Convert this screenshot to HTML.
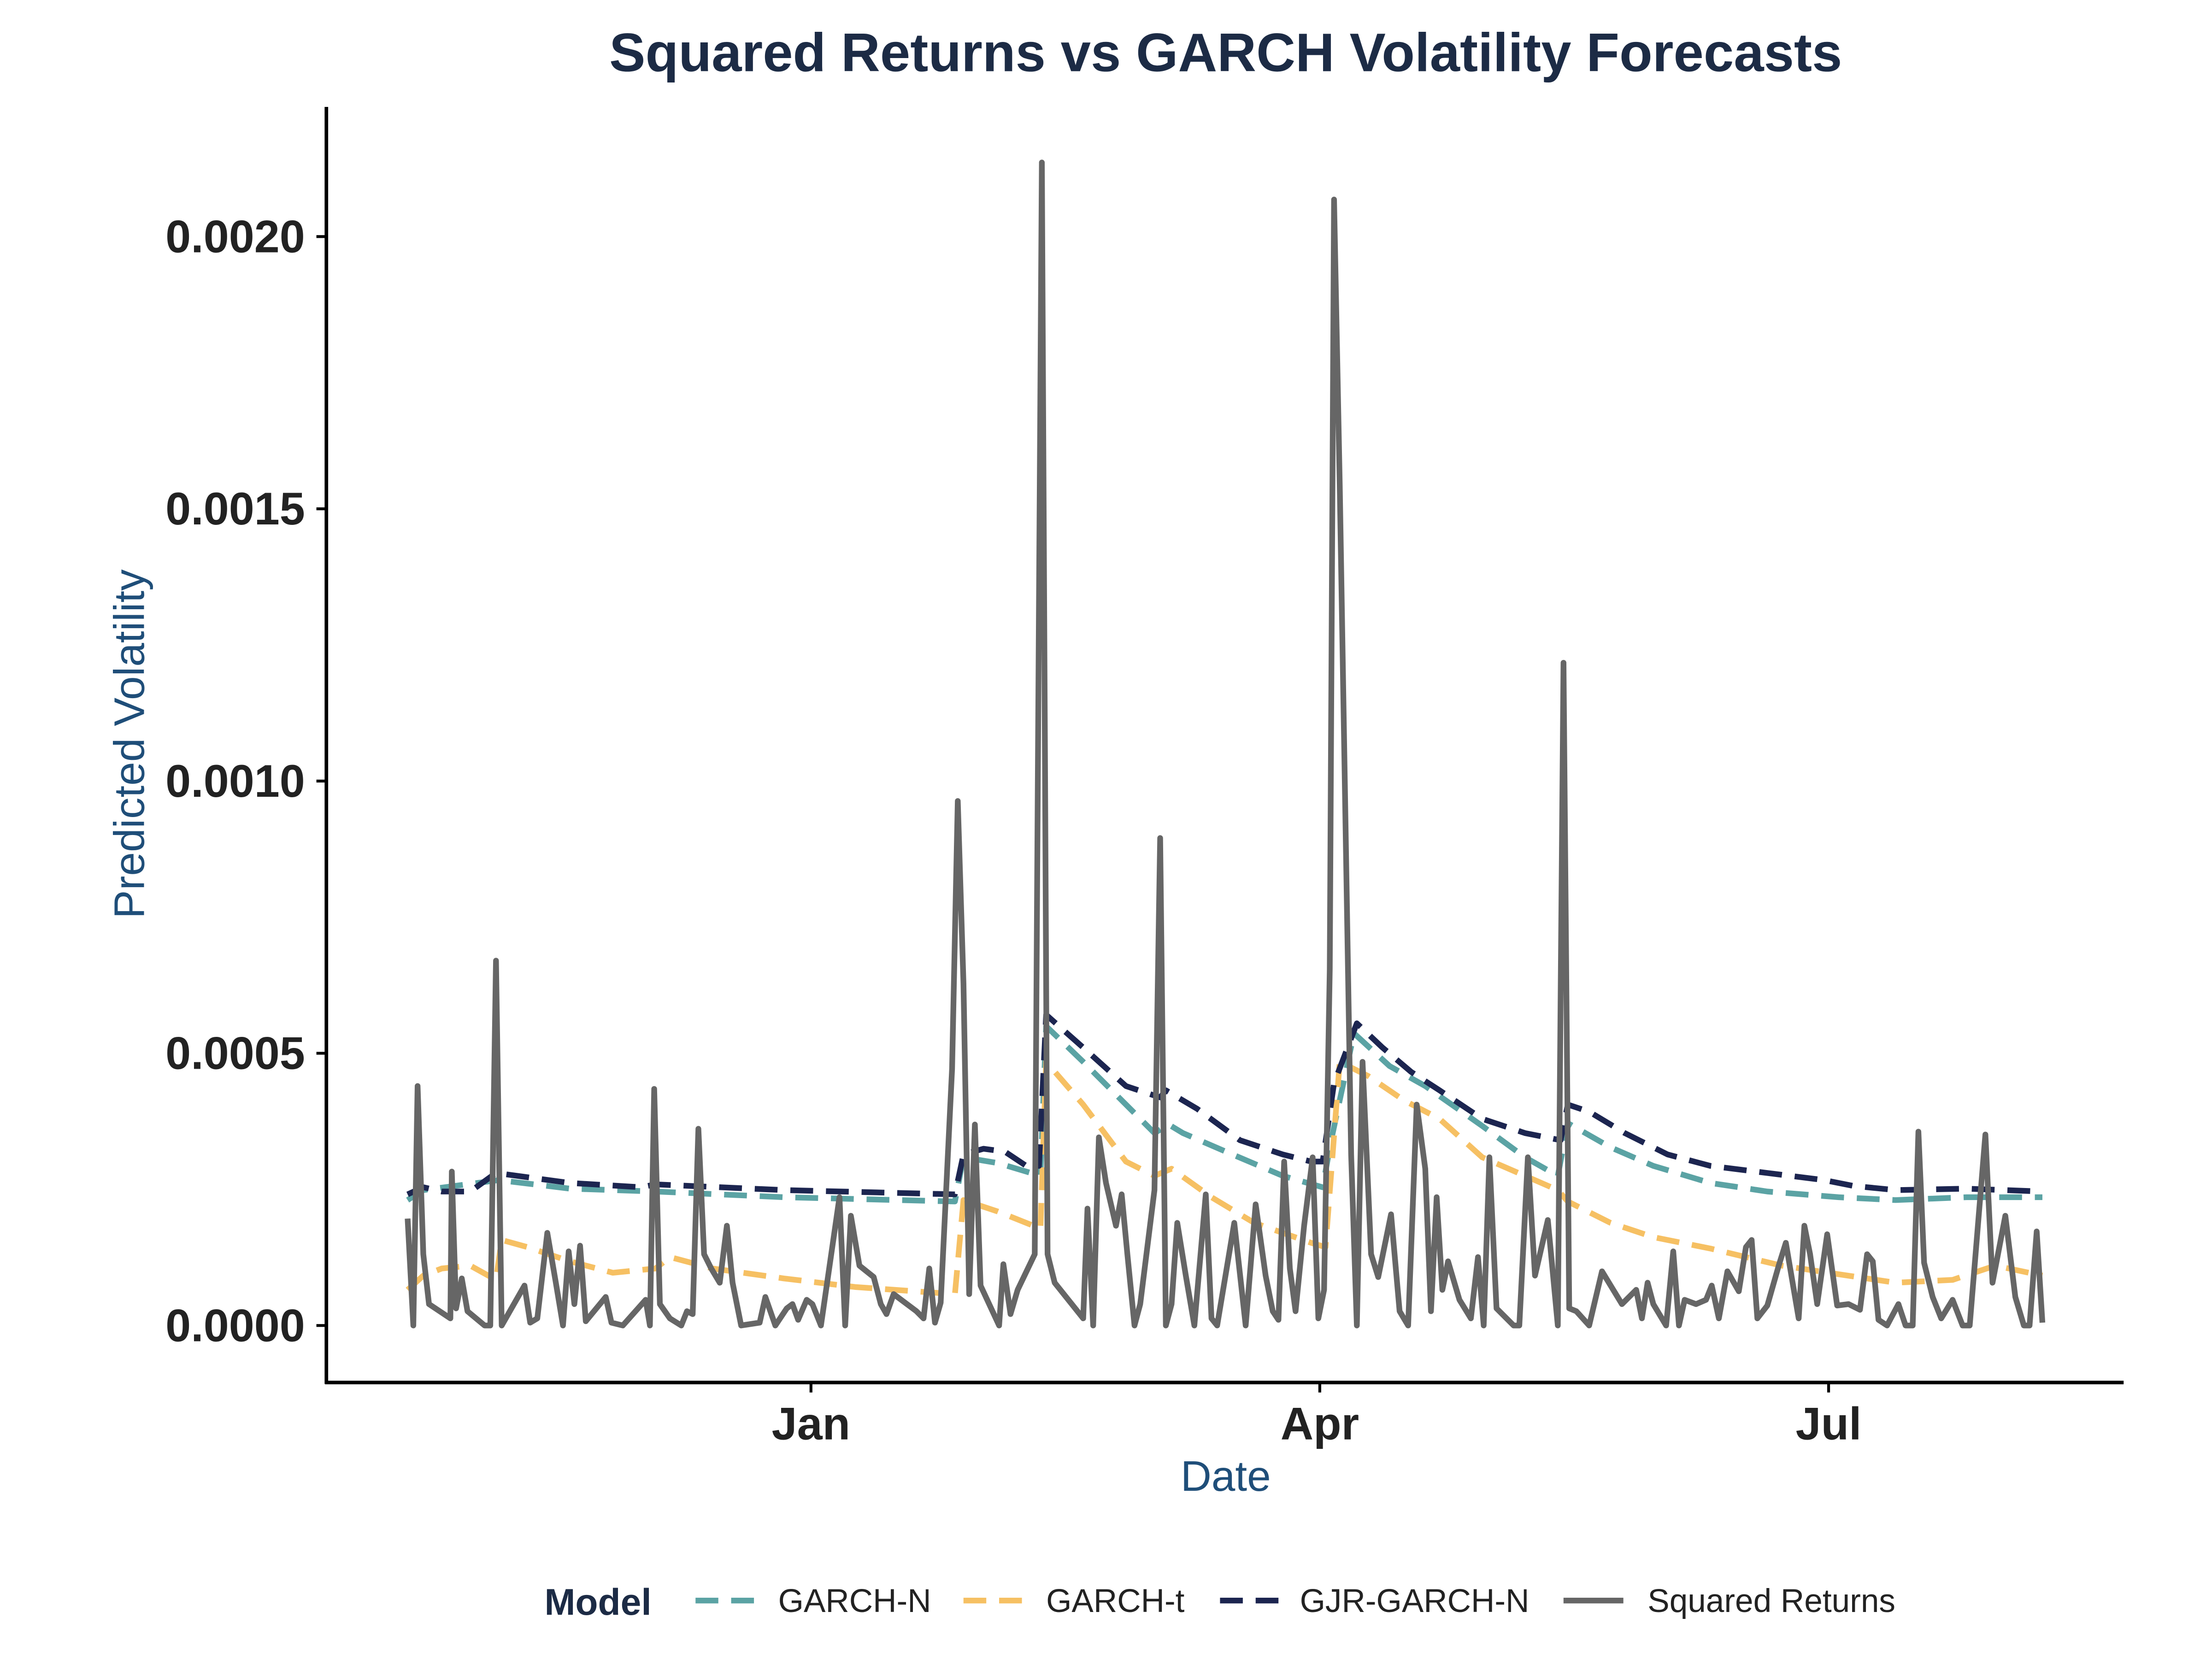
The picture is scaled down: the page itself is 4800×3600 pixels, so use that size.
<!DOCTYPE html>
<html><head><meta charset="utf-8"><style>
html,body{margin:0;padding:0;background:#fff;}
svg{display:block;}
text{font-family:"Liberation Sans",sans-serif;}
</style></head><body>
<svg width="4800" height="3600" viewBox="0 0 1552 1164" xmlns="http://www.w3.org/2000/svg">
<rect width="1552" height="1164" fill="#fff"/>
<text x="860" y="50" text-anchor="middle" font-size="38" font-weight="bold" fill="#1c2b45">Squared Returns vs GARCH Volatility Forecasts</text>
<line x1="229" y1="75" x2="229" y2="971" stroke="#000" stroke-width="2.5"/>
<line x1="228" y1="970" x2="1490" y2="970" stroke="#000" stroke-width="2.5"/>
<g font-size="32" font-weight="bold" fill="#222" text-anchor="end">
<text x="214" y="941">0.0000</text>
<text x="214" y="750">0.0005</text>
<text x="214" y="559">0.0010</text>
<text x="214" y="368">0.0015</text>
<text x="214" y="177">0.0020</text>
</g>
<g stroke="#000" stroke-width="2"><line x1="222" y1="930" x2="229" y2="930"/><line x1="222" y1="739" x2="229" y2="739"/><line x1="222" y1="548" x2="229" y2="548"/><line x1="222" y1="357" x2="229" y2="357"/><line x1="222" y1="166" x2="229" y2="166"/>
<line x1="569" y1="970" x2="569" y2="977"/><line x1="926" y1="970" x2="926" y2="977"/><line x1="1283" y1="970" x2="1283" y2="977"/></g>
<g font-size="32" font-weight="bold" fill="#222" text-anchor="middle">
<text x="569" y="1010">Jan</text><text x="926" y="1010">Apr</text><text x="1283" y="1010">Jul</text>
</g>
<text x="860" y="1046" text-anchor="middle" font-size="30" fill="#1f4e79">Date</text>
<text transform="translate(101,522) rotate(-90)" text-anchor="middle" font-size="30" fill="#1f4e79">Predicted Volatility</text>
<g fill="none" stroke-width="4" stroke-linejoin="round">
<polyline stroke="#5ba3a4" stroke-dasharray="16,9" points="286,842 297,835 350,828 400,834 460,836 550,840 670,843 676,812 700,816 730,825 734,720 760,745 790,775 810,795 820,789 830,795 860,808 900,825 928,833 934,800 950,725 975,748 1000,762 1040,790 1070,812 1093,825 1100,788 1130,805 1160,818 1200,830 1240,836 1290,840 1330,842 1380,840 1433,840"/>
<polyline stroke="#f6c063" stroke-dasharray="16,9" points="286,905 297,895 310,890 330,888 348,898 352,870 370,875 400,885 430,893 460,890 470,882 500,890 550,897 600,903 670,908 676,842 700,850 730,862 734,745 760,775 790,815 810,825 822,820 850,840 880,858 920,872 930,875 940,745 960,755 985,772 1010,785 1040,812 1070,825 1093,835 1100,843 1130,858 1160,868 1200,876 1250,888 1283,893 1330,900 1370,898 1400,888 1433,895"/>
<polyline stroke="#1c2550" stroke-dasharray="16,9" points="286,838 297,833 310,836 330,836 348,823 400,830 450,833 460,831 550,835 670,838 676,810 690,806 705,808 720,818 729,818 734,712 760,735 790,762 814,770 818,765 840,778 870,800 900,810 920,815 928,815 936,760 952,718 970,735 990,752 1010,765 1040,785 1070,795 1095,800 1100,775 1115,780 1140,795 1170,810 1200,818 1240,823 1280,828 1300,832 1330,835 1380,834 1433,836"/>
<polyline stroke="#666" points="286,855 290,930 293,762 297,880 301,915 316,925 317,822 320,918 324,897 328,920 340,930 344,930 348,674 352,930 368,902 372,928 377,925 384,865 390,900 395,930 399,878 403,915 407,874 411,927 425,910 429,928 437,930 453,912 456,930 459,764 463,915 470,925 478,930 482,920 486,922 490,792 494,880 499,890 505,900 510,860 514,900 520,930 533,928 537,910 544,930 552,918 556,915 560,926 566,912 570,915 576,930 589,840 593,930 597,853 603,888 613,896 618,915 622,922 627,908 643,920 648,925 652,890 656,928 660,914 668,750 672,562 676,690 680,908 684,789 688,902 701,930 704,887 709,922 714,905 726,880 731,114 735,880 740,900 760,925 763,848 767,930 771,798 776,830 783,860 787,838 791,880 796,930 800,915 810,835 814,588 818,930 822,915 826,858 832,895 838,930 846,838 850,925 854,930 866,858 874,930 881,845 888,895 893,920 897,926 901,815 905,890 909,920 915,860 921,812 925,925 929,905 933,680 936,140 940,340 948,810 952,930 956,745 962,880 967,896 976,852 982,920 988,930 994,775 1000,820 1004,920 1008,840 1012,905 1016,885 1024,912 1032,925 1037,882 1041,930 1045,812 1050,918 1062,930 1066,930 1072,812 1077,895 1086,856 1093,930 1097,465 1101,918 1106,920 1115,930 1124,892 1138,915 1148,905 1152,925 1156,900 1160,915 1169,930 1174,878 1178,930 1182,912 1190,915 1197,912 1201,902 1206,925 1212,892 1220,906 1225,875 1229,870 1233,925 1240,916 1248,888 1253,872 1262,925 1266,860 1270,880 1275,915 1282,866 1289,916 1297,915 1305,919 1310,880 1314,885 1318,926 1324,930 1332,915 1337,930 1342,930 1346,794 1350,886 1356,910 1362,925 1370,912 1377,930 1382,930 1393,796 1398,900 1407,853 1414,910 1420,930 1424,930 1429,864 1433,928"/>
</g>
<text x="382" y="1133" font-size="26" font-weight="bold" fill="#1c2b45">Model</text>
<g stroke-width="4" fill="none">
<line x1="488" y1="1123" x2="530" y2="1123" stroke="#5ba3a4" stroke-dasharray="16,9"/>
<line x1="676" y1="1123" x2="718" y2="1123" stroke="#f6c063" stroke-dasharray="16,9"/>
<line x1="856" y1="1123" x2="898" y2="1123" stroke="#1c2550" stroke-dasharray="16,9"/>
<line x1="1097" y1="1123" x2="1139" y2="1123" stroke="#666"/>
</g>
<g font-size="23" fill="#222">
<text x="546" y="1131">GARCH-N</text>
<text x="734" y="1131">GARCH-t</text>
<text x="912" y="1131">GJR-GARCH-N</text>
<text x="1156" y="1131">Squared Returns</text>
</g>
</svg>
</body></html>
